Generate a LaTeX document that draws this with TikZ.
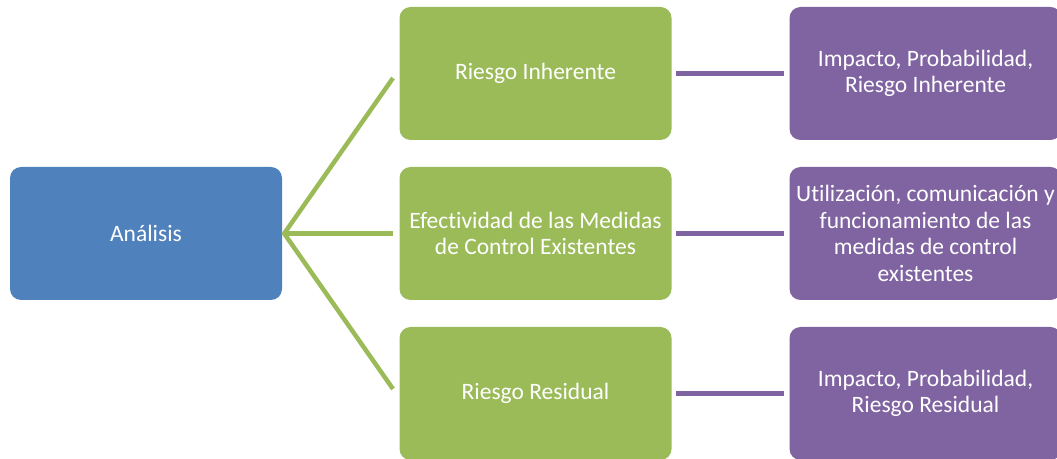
\documentclass[tikz,border=0pt]{standalone}
\usepackage{fontspec}
\setmainfont{Carlito}[RawFeature=-liga]
\definecolor{cblue}{HTML}{4F81BD}
\definecolor{cgreen}{HTML}{9BBB59}
\definecolor{cpurple}{HTML}{8064A2}
\begin{document}
\begin{tikzpicture}[x=1pt,y=1pt,
  box/.style={rounded corners=11pt, minimum width=272pt, minimum height=133pt, inner sep=0pt,
    text=white, align=center, font=\fontsize{23.5}{26.5}\selectfont},
  bluebox/.style={box, fill=cblue},
  greenbox/.style={box, fill=cgreen},
  purplebox/.style={box, fill=cpurple},
  gline/.style={draw=cgreen, line width=4.5pt},
  pline/.style={draw=cpurple, line width=4.5pt, shorten <=4pt, shorten >=5pt}]
\useasboundingbox (0,0) rectangle (1057,458);
\clip (0,0) rectangle (1057,458);
\node[bluebox] (a) at (146,224.5) {Análisis};
\node[greenbox] (g1) at (535.5,384.5) {Riesgo Inherente};
\node[greenbox] (g2) at (535.5,224.5) {Efectividad de las Medidas\\de Control Existentes};
\node[greenbox] (g3) at (535.5,64.5) {Riesgo Residual};
\node[purplebox] (p1) at (925.5,384.5) {Impacto, Probabilidad,\\Riesgo Inherente};
\node[purplebox] (p2) at (925.5,224.5) {Utilización, comunicación y\\funcionamiento de las\\medidas de control\\existentes};
\node[purplebox] (p3) at (925.5,64.5) {Impacto, Probabilidad,\\Riesgo Residual};
\coordinate (c1) at (393,380);
\coordinate (c2) at (393,224.5);
\coordinate (c3) at (393,69);
\coordinate (o) at ([xshift=2pt]a.east);
\draw[gline] (c1) -- (o) -- (c3);
\draw[gline] (o) -- (c2);
\draw[pline] (g1.east) -- (p1.west);
\draw[pline] (g2.east) -- (p2.west);
\draw[pline] (g3.east) -- (p3.west);
\end{tikzpicture}
\end{document}
